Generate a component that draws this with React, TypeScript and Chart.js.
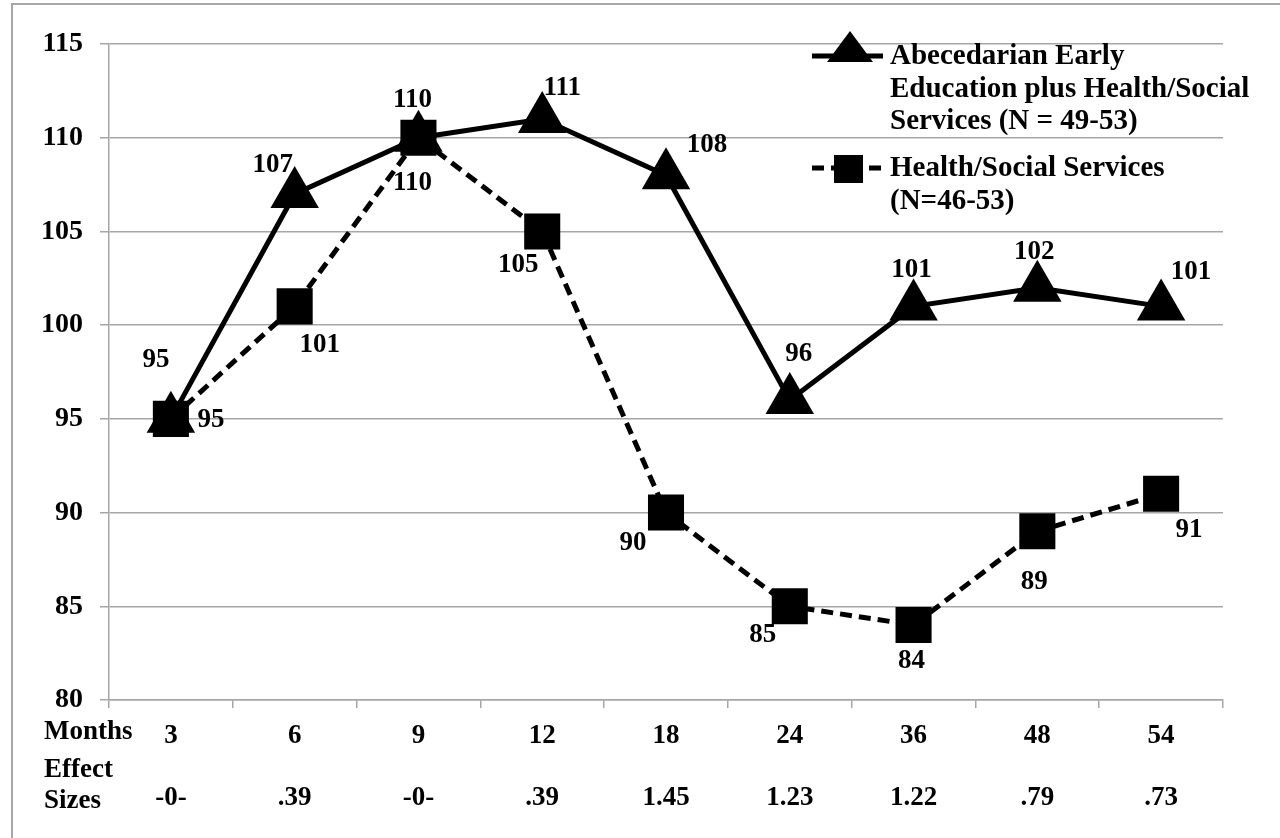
import React, { useEffect, useRef } from "react";
import { Chart, registerables } from "chart.js";

Chart.register(...registerables);

// ---- data ----
const months: string[] = ["3", "6", "9", "12", "18", "24", "36", "48", "54"];
const effectSizes: string[] = ["-0-", ".39", "-0-", ".39", "1.45", "1.23", "1.22", ".79", ".73"];
const abecedarianValues: number[] = [95, 107, 110, 111, 108, 96, 101, 102, 101];
const healthSocialValues: number[] = [95, 101, 110, 105, 90, 85, 84, 89, 91];
const yTicks = { min: 80, max: 115, step: 5 };

const abecedarianLegend: string[] = ["Abecedarian Early", "Education plus Health/Social", "Services (N = 49-53)"];
const healthSocialLegend: string[] = ["Health/Social Services", "(N=46-53)"];
const rowLabelMonths = "Months";
const rowLabelEffect: string[] = ["Effect", "Sizes"];

// label placement (offset of each value label from its point)
const abecedarianLabelOffsets: [number, number][] = [
  [-15, -59], [-22, -29], [-6, -38], [20, -31], [41, -30], [9, -46], [-2, -36], [-3, -36], [30, -34],
];
const healthSocialLabelOffsets: [number, number][] = [
  [40, 1], [25, 39], [-6, 45], [-24, 34], [-33, 30], [-27, 29], [-2, 36], [-3, 51], [28, 36],
];

const FONT = "'Liberation Serif', 'Times New Roman', serif";
const FONT_SIZE = 27;
const LEGEND_FONT_SIZE = 29;

const overlayPlugin = {
  id: "overlay",
  beforeDraw(chart: any) {
    const ctx = chart.ctx;
    ctx.save();
    ctx.fillStyle = "#ffffff";
    ctx.fillRect(0, 0, chart.width, chart.height);
    ctx.strokeStyle = "#a6a6a6";
    ctx.lineWidth = 2;
    ctx.strokeRect(12, 4, chart.width + 100, chart.height + 100);
    ctx.restore();
  },
  afterDatasetsDraw(chart: any) {
    const ctx = chart.ctx;
    ctx.save();
    ctx.font = `bold ${FONT_SIZE}px ${FONT}`;
    ctx.fillStyle = "#000";
    ctx.textAlign = "center";
    ctx.textBaseline = "middle";
    const offsets = [abecedarianLabelOffsets, healthSocialLabelOffsets];
    chart.data.datasets.forEach((ds: any, di: number) => {
      const meta = chart.getDatasetMeta(di);
      meta.data.forEach((pt: any, i: number) => {
        const [dx, dy] = offsets[di][i];
        ctx.fillText(String(ds.data[i]), pt.x + dx, pt.y + dy);
      });
    });

    // row labels at the left of the category axis
    ctx.textAlign = "left";
    ctx.fillText(rowLabelMonths, 44, 732);
    ctx.fillText(rowLabelEffect[0], 44, 770);
    ctx.fillText(rowLabelEffect[1], 44, 801);

    // legend
    ctx.font = `bold ${LEGEND_FONT_SIZE}px ${FONT}`;
    const tx = 890;
    // item 1: solid line + triangle
    ctx.strokeStyle = "#000";
    ctx.lineWidth = 5;
    ctx.setLineDash([]);
    ctx.beginPath();
    ctx.moveTo(812, 56);
    ctx.lineTo(883, 56);
    ctx.stroke();
    ctx.beginPath();
    ctx.moveTo(850, 31);
    ctx.lineTo(873, 62);
    ctx.lineTo(827, 62);
    ctx.closePath();
    ctx.fill();
    abecedarianLegend.forEach((t, i) => ctx.fillText(t, tx, 57 + i * 32.5));
    // item 2: dashed line + square
    ctx.setLineDash([12, 7]);
    ctx.beginPath();
    ctx.moveTo(812, 168);
    ctx.lineTo(883, 168);
    ctx.stroke();
    ctx.setLineDash([]);
    ctx.fillRect(834, 155, 29, 28);
    healthSocialLegend.forEach((t, i) => ctx.fillText(t, tx, 169 + i * 32.5));
    ctx.restore();
  },
};

export default function App() {
  const ref = useRef<HTMLCanvasElement | null>(null);
  useEffect(() => {
    if (!ref.current) return;
    const labels = months.map((m, i) => [m, "", effectSizes[i]]);
    const chart = new Chart(ref.current, {
      type: "line",
      data: {
        labels,
        datasets: [
          {
            label: abecedarianLegend.join(" "),
            data: abecedarianValues,
            borderColor: "#000",
            backgroundColor: "#000",
            borderWidth: 5,
            pointStyle: "triangle",
            pointRadius: 28,
            pointBorderWidth: 0,
            pointBackgroundColor: "#000",
            tension: 0,
            order: 2,
          },
          {
            label: healthSocialLegend.join(" "),
            data: healthSocialValues,
            borderColor: "#000",
            backgroundColor: "#000",
            borderWidth: 5,
            borderDash: [12, 7],
            pointStyle: "rect",
            pointRadius: 25.5,
            pointBorderWidth: 0,
            pointBackgroundColor: "#000",
            tension: 0,
            order: 1,
          },
        ],
      },
      options: {
        animation: false,
        responsive: false,
        devicePixelRatio: 1,
        layout: { padding: { top: 44, right: 57, left: 0, bottom: 0 } },
        plugins: {
          legend: { display: false },
          tooltip: { enabled: false },
          title: { display: false },
        },
        scales: {
          x: {
            type: "category",
            offset: true,
            grid: {
              offset: true,
              drawOnChartArea: false,
              drawTicks: true,
              tickLength: 8,
              color: "#a6a6a6",
              lineWidth: 1.5,
            },
            border: { display: true, color: "#a6a6a6", width: 1.5 },
            ticks: {
              color: "#000",
              padding: 13,
              maxRotation: 0,
              autoSkip: false,
              font: { family: FONT, size: FONT_SIZE, weight: "bold", lineHeight: 31 / FONT_SIZE },
            },
            afterFit(scale: any) {
              scale.height = 138;
            },
          },
          y: {
            min: yTicks.min,
            max: yTicks.max,
            ticks: {
              stepSize: yTicks.step,
              color: "#000",
              padding: 17,
              font: { family: FONT, size: 28, weight: "bold" },
            },
            grid: { color: "#a6a6a6", lineWidth: 1.5, tickLength: 9 },
            border: { display: true, color: "#a6a6a6", width: 1.5 },
            afterFit(scale: any) {
              scale.width = 109;
            },
          },
        },
      },
      plugins: [overlayPlugin],
    });
    return () => chart.destroy();
  }, []);
  return (
    <div style={{ position: "fixed", left: 0, top: 0, width: 1280, height: 838, background: "#fff" }}>
      <canvas ref={ref} width={1280} height={838} style={{ display: "block", width: 1280, height: 838 }} />
    </div>
  );
}
